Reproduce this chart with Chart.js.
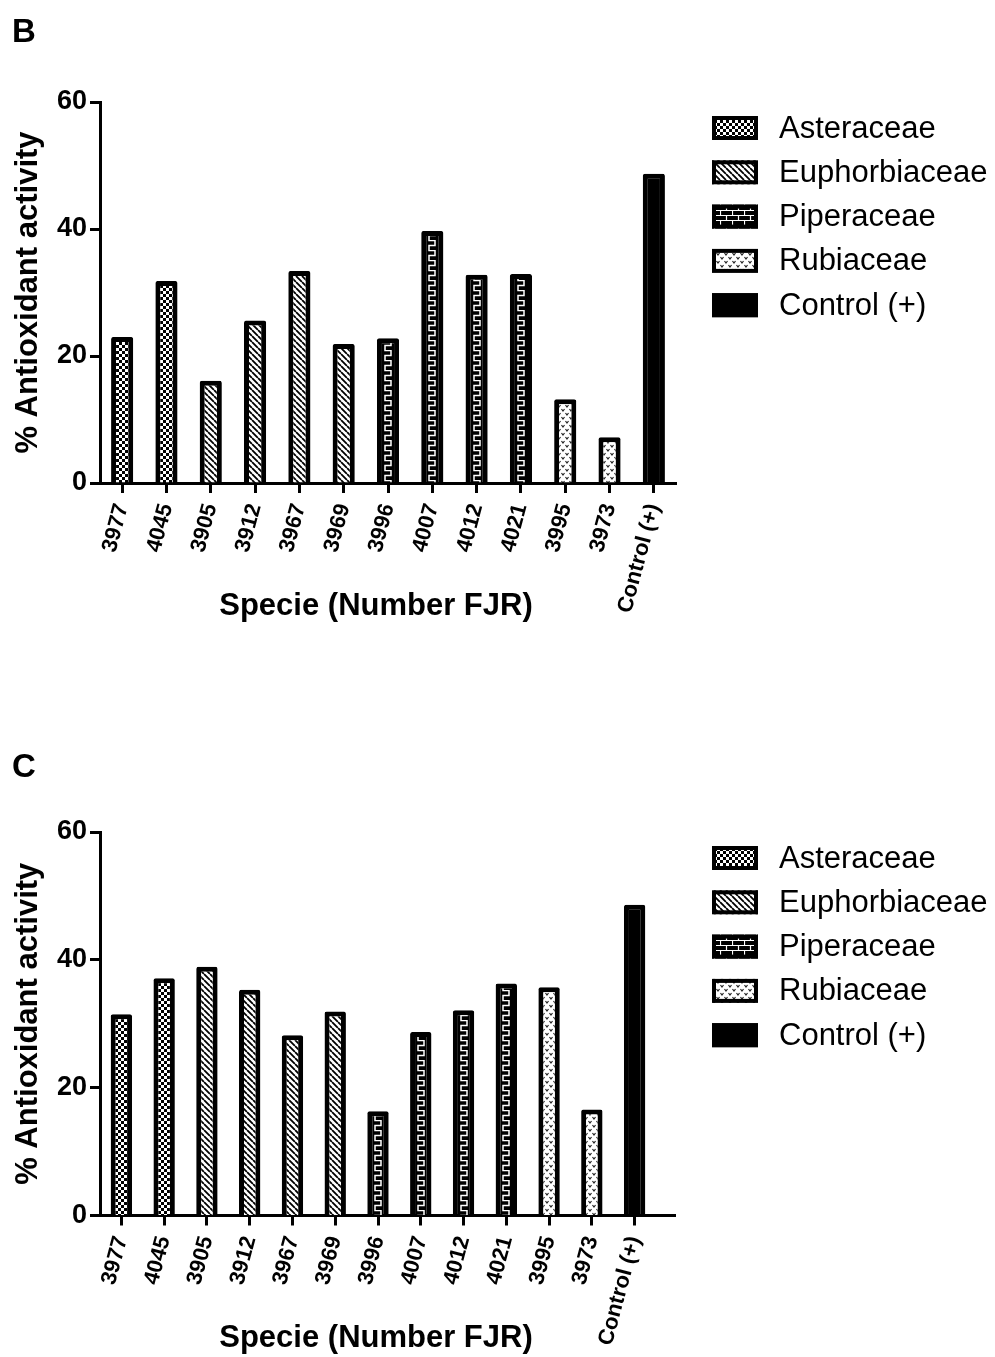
<!DOCTYPE html>
<html>
<head>
<meta charset="utf-8">
<script src="https://cdn.jsdelivr.net/npm/chart.js@4"></script>
<style>
  body { margin: 0; background: #fff; }
  canvas { display: block; }
</style>
</head>
<body>
<canvas id="chartB" width="995" height="680"></canvas>
<canvas id="chartC" width="995" height="677"></canvas>
<script>
const species = ['3977', '4045', '3905', '3912', '3967', '3969', '3996', '4007', '4012', '4021', '3995', '3973', 'Control (+)'];
const familyOf = ['Asteraceae', 'Asteraceae', 'Euphorbiaceae', 'Euphorbiaceae', 'Euphorbiaceae', 'Euphorbiaceae',
  'Piperaceae', 'Piperaceae', 'Piperaceae', 'Piperaceae', 'Rubiaceae', 'Rubiaceae', 'Control (+)'];
const families = ['Asteraceae', 'Euphorbiaceae', 'Piperaceae', 'Rubiaceae', 'Control (+)'];
const activityB = [23.0, 31.8, 16.1, 25.6, 33.4, 21.9, 22.8, 39.7, 32.8, 32.9, 13.2, 7.2, 48.7];
const activityC = [31.5, 37.1, 38.9, 35.3, 28.2, 31.9, 16.3, 28.7, 32.1, 36.3, 35.7, 16.6, 48.6];
const yTicks = [0, 20, 40, 60];

const FONT = '"Liberation Sans", Arial, sans-serif';
Chart.defaults.font.family = FONT;
Chart.defaults.color = '#000';

// small pattern tiles for the hatched bars
function makeTile(w, h, draw) {
  const t = document.createElement('canvas');
  t.width = w; t.height = h;
  draw(t.getContext('2d'), w, h);
  return t;
}

const tiles = {
  Asteraceae: makeTile(6, 6, g => {
    g.fillStyle = '#fff'; g.fillRect(0, 0, 6, 6);
    g.fillStyle = '#000'; g.fillRect(0, 0, 3, 3); g.fillRect(3, 3, 3, 3);
  }),
  Euphorbiaceae: makeTile(6, 6, g => {
    g.fillStyle = '#fff'; g.fillRect(0, 0, 6, 6);
    g.strokeStyle = '#000'; g.lineWidth = 1.8;
    g.beginPath();
    [-6, 0, 6].forEach(k => { g.moveTo(k, 0); g.lineTo(k + 6, 6); });
    g.stroke();
  }),
  Piperaceae: makeTile(12, 10, g => {
    g.fillStyle = '#000'; g.fillRect(0, 0, 12, 10);
    g.strokeStyle = '#fff'; g.lineWidth = 1.5;
    g.beginPath();
    g.moveTo(3, -0.5); g.lineTo(3, 0.5); g.lineTo(9, 0.5); g.lineTo(9, 5.5);
    g.lineTo(3, 5.5); g.lineTo(3, 10.5);
    g.stroke();
  }),
  Rubiaceae: makeTile(8, 8, g => {
    g.fillStyle = '#fff'; g.fillRect(0, 0, 8, 8);
    g.strokeStyle = '#222'; g.lineWidth = 1.2;
    g.beginPath();
    g.moveTo(0.5, 1); g.lineTo(2, 3); g.lineTo(3.5, 1);
    g.moveTo(4.5, 5); g.lineTo(6, 7); g.lineTo(7.5, 5);
    g.stroke();
  })
};

const brickTile = makeTile(12, 10, g => {
  g.fillStyle = '#000'; g.fillRect(0, 0, 12, 10);
  g.strokeStyle = '#fff'; g.lineWidth = 1.2;
  g.beginPath();
  g.moveTo(0, 0.5); g.lineTo(12, 0.5);
  g.moveTo(0, 5.5); g.lineTo(12, 5.5);
  g.moveTo(0.5, 0.5); g.lineTo(0.5, 5.5);
  g.moveTo(6.5, 5.5); g.lineTo(6.5, 10);
  g.stroke();
});

function barFill(context) {
  if (context.type !== 'data') return '#000';
  const fam = familyOf[context.dataIndex];
  if (fam === 'Control (+)') return '#000';
  const tile = tiles[fam];
  const pat = context.chart.ctx.createPattern(tile, 'repeat');
  const xs = context.chart.scales.x;
  const cx = xs ? xs.getPixelForValue(context.dataIndex) : NaN;
  if (isFinite(cx)) {
    pat.setTransform(new DOMMatrix().translate(Math.round(cx - tile.width / 2), 0));
  }
  return pat;
}

function legendFill(ctx, fam) {
  if (fam === 'Control (+)') return '#000';
  if (fam === 'Piperaceae') return ctx.createPattern(brickTile, 'repeat');
  return ctx.createPattern(tiles[fam], 'repeat');
}

// panel letter, x title, legend and the little tail of the x axis
const panelDecor = {
  id: 'panelDecor',
  afterDraw(chart, args, opts) {
    const c = chart.ctx;
    c.save();
    c.fillStyle = '#000';
    c.font = 'bold 33px ' + FONT;
    c.textBaseline = 'alphabetic';
    c.fillText(opts.letter, 12, opts.letterY);

    c.font = 'bold 31px ' + FONT;
    c.textAlign = 'center';
    c.textBaseline = 'middle';
    c.fillText(opts.xTitle, 376, opts.titleY);
    c.textAlign = 'left';

    if (opts.axisExtend) {
      const y = Math.round(chart.scales.x.top - 1.5) + 1.5;
      c.strokeStyle = '#000';
      c.lineWidth = 3;
      c.beginPath();
      c.moveTo(chart.chartArea.right - 4, y);
      c.lineTo(chart.chartArea.right + opts.axisExtend, y);
      c.stroke();
    }

    c.font = '31px ' + FONT;
    families.forEach((fam, i) => {
      const cy = opts.legendTop + i * 44.3;
      const x = 712, w = 46, h = 24;
      c.fillStyle = legendFill(c, fam);
      c.fillRect(x, cy - h / 2, w, h);
      c.strokeStyle = '#000';
      c.lineWidth = 4;
      c.strokeRect(x + 2, cy - h / 2 + 2, w - 4, h - 4);
      c.fillStyle = '#000';
      c.fillText(fam, 779, cy + 1);
    });
    c.restore();
  }
};

function makePanel(id, values, g) {
  const titleHalf = 31 * 1.2 / 2;
  const xScaleHeight = g.titleY + titleHalf - g.areaBottom;
  const padBottom = g.canvasHeight - g.titleY - titleHalf;
  return new Chart(document.getElementById(id), {
    type: 'bar',
    data: {
      labels: species,
      datasets: [{
        data: values,
        backgroundColor: barFill,
        borderColor: '#000',
        borderWidth: 5,
        borderRadius: 2,
        categoryPercentage: 1,
        barPercentage: 0.5
      }]
    },
    plugins: [panelDecor],
    options: {
      responsive: false,
      animation: false,
      layout: { padding: { left: 0, top: g.areaTop, right: 995 - g.areaRight, bottom: padBottom } },
      plugins: {
        legend: { display: false },
        tooltip: { enabled: false },
        panelDecor: {
          letter: g.letter, letterY: g.letterY, legendTop: g.legendTop, axisExtend: g.axisExtend,
          xTitle: 'Specie (Number FJR)', titleY: g.titleY
        }
      },
      scales: {
        x: {
          grid: { offset: false, drawOnChartArea: false, tickLength: 10, tickWidth: 3, tickColor: '#000' },
          border: { color: '#000', width: 3 },
          ticks: { autoSkip: false, minRotation: 75, maxRotation: 75, padding: 8, font: { size: 22, weight: 'bold' } },
          afterFit: s => { s.height = xScaleHeight; }
        },
        y: {
          min: yTicks[0],
          max: yTicks[yTicks.length - 1],
          afterBuildTicks: s => { s.ticks = yTicks.map(v => ({ value: v })); },
          grid: { drawOnChartArea: false, tickLength: 10, tickWidth: 3, tickColor: '#000' },
          border: { color: '#000', width: 3 },
          ticks: { padding: 3, font: { size: 27, weight: 'bold' } },
          title: { display: true, text: '% Antioxidant activity', font: { size: 31, weight: 'bold' }, padding: { top: 10, bottom: 0 } },
          afterFit: s => { s.width = 100; }
        }
      }
    }
  });
}

makePanel('chartB', activityB, {
  letter: 'B', letterY: 42, canvasHeight: 680,
  areaTop: 102, areaBottom: 483, areaRight: 676, titleY: 606,
  legendTop: 128, axisExtend: 0
});

makePanel('chartC', activityC, {
  letter: 'C', letterY: 97, canvasHeight: 677,
  areaTop: 152, areaBottom: 535.5, areaRight: 656, titleY: 658,
  legendTop: 178, axisExtend: 20
});
</script>
</body>
</html>
